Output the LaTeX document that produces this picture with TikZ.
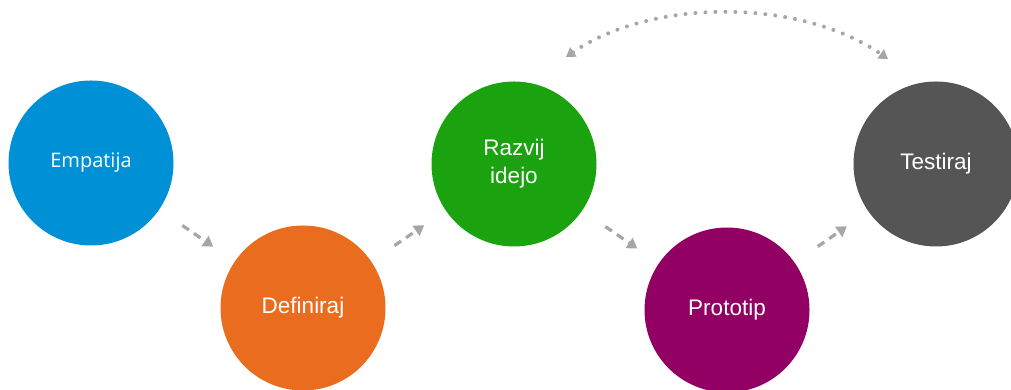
\documentclass[tikz,border=0pt]{standalone}
\usepackage{fontspec}
\setmainfont{Liberation Sans}
\newfontfamily\segoe{Open Sans}
\usetikzlibrary{arrows.meta,positioning}
\definecolor{modraDT}{RGB}{0,144,214}
\definecolor{oranzDT}{RGB}{234,108,30}
\definecolor{zelenaDT}{RGB}{26,163,14}
\definecolor{vijolDT}{RGB}{145,0,98}
\definecolor{sivaDT}{RGB}{85,85,85}
\colorlet{puscica}{black!35}

\begin{document}
\begin{tikzpicture}[x=1pt,y=1pt,
        faza/.style={circle,minimum size=165pt,inner sep=0pt,text=white,
          font=\fontsize{22.5}{28}\selectfont,align=center},
        tok/.style={draw=puscica,line width=3.2pt,dash pattern=on 8pt off 6pt,
          -{Triangle[length=10pt,width=12pt]},shorten <=28pt,shorten >=26pt},
        povratek/.style={draw=puscica,line width=4pt,line cap=round,
          dash pattern=on 0pt off 10pt,
          {Triangle[length=9pt,width=11pt]}-{Triangle[length=9pt,width=11pt]}}
      ]
        \useasboundingbox (0,0) rectangle (1011,390);

        % Pet faz razmisljanja
        \node[faza,fill=modraDT,font=\segoe\fontsize{20}{25}\selectfont]
          (empatija) at (91,227) {Empatija};
        \node[faza,fill=oranzDT] (definiraj) at (303,82) {Definiraj};
        \node[faza,fill=zelenaDT] (razvij) at (514,226) {Razvij\\idejo};
        \node[faza,fill=vijolDT] (prototip) at (727,80) {Prototip};
        \node[faza,fill=sivaDT] (testiraj) at (936,226) {Testiraj};

        \draw[tok] (empatija) -- (definiraj);
        \draw[tok] (definiraj) -- (razvij);
        \draw[tok] (razvij) -- (prototip);
        \draw[tok] (prototip) -- (testiraj);

        % Iteracija med idejo in testom
        \coordinate (lokL) at (566,333);
        \coordinate (lokD) at (888,331);
        \draw[povratek] (lokL) .. controls (652,392) and (800,392) .. (lokD);
      \end{tikzpicture}
\end{document}
